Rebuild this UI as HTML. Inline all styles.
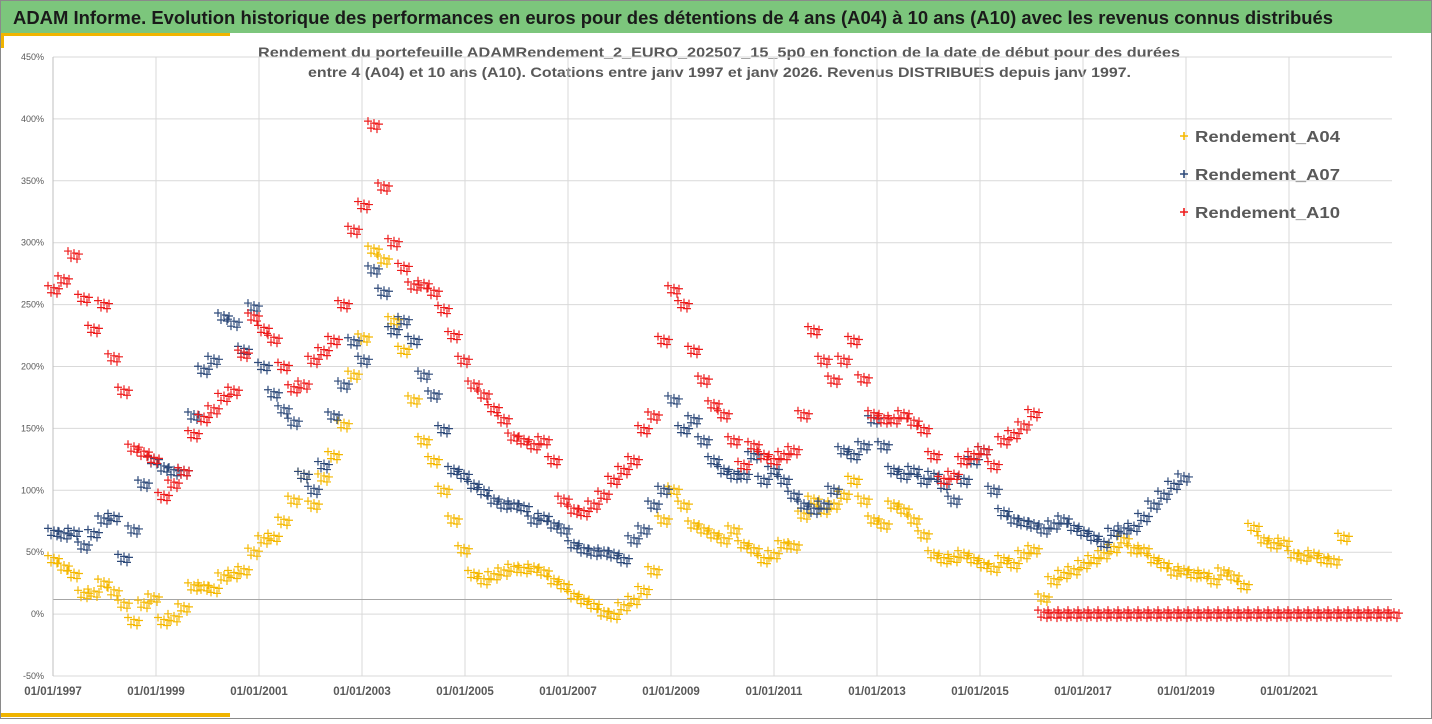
<!DOCTYPE html>
<html><head><meta charset="utf-8"><style>
body{margin:0;width:1432px;height:719px;overflow:hidden;background:#fff;font-family:"Liberation Sans",sans-serif}
</style></head><body>
<svg id="c" width="1432" height="719" xmlns="http://www.w3.org/2000/svg">
<rect x="0.5" y="0.5" width="1431" height="718" fill="#fff" stroke="#8a8a8a"/>
<rect x="1" y="1" width="1430" height="32" fill="#7cc67c"/>
<text x="13" y="24" font-size="18" font-weight="bold" fill="#1a1a1a" textLength="1320" lengthAdjust="spacingAndGlyphs">ADAM Informe. Evolution historique des performances en euros pour des détentions de 4 ans (A04) à 10 ans (A10) avec les revenus connus distribués</text>
<rect x="1" y="33" width="229" height="3" fill="#f0b400"/>
<rect x="1" y="36" width="3" height="12" fill="#f0b400"/>
<rect x="1" y="713" width="229" height="4" fill="#f0b400"/>
<text x="258" y="57" font-size="14" font-weight="bold" fill="#595959" textLength="922" lengthAdjust="spacingAndGlyphs">Rendement du portefeuille ADAMRendement_2_EURO_202507_15_5p0  en fonction de la date de début pour des durées</text>
<text x="308" y="77" font-size="14" font-weight="bold" fill="#595959" textLength="823" lengthAdjust="spacingAndGlyphs">entre 4 (A04) et 10 ans (A10). Cotations entre janv 1997 et janv 2026. Revenus DISTRIBUES depuis janv 1997.</text>
<g id="grid"></g><g id="marks"></g><g id="legend"></g>
</svg>
<script>
const yTicks=[450,400,350,300,250,200,150,100,50,0,-50];
const xTickYears=[1997,1999,2001,2003,2005,2007,2009,2011,2013,2015,2017,2019,2021];
const startYear=1997, stepYears=0.19417;
const a04=[44,38,32,16,17,25,18,8,-6,8,13,-6,-3,5,22,22,20,30,32,35,50,60,62,75,92,112,88,110,128,153,193,223,294,286,237,213,173,140,124,100,
76,52,32,27,31,34,37,36,37,34,27,23,15,11,7,1,-1,6,11,19,35,76,100,88,72,68,64,60,68,56,
52,44,48,56,55,80,92,84,88,96,108,92,76,72,88,84,76,64,48,44,45,48,44,40,37,44,40,48,52,13,
27,32,35,40,44,48,53,60,52,52,44,40,34,35,32,32,27,34,30,23,70,60,56,58,48,46,48,44,43,62];
const a07=[66,64,66,55,65,76,78,45,68,105,124,118,115,115,160,197,205,240,235,213,248,200,178,165,155,112,100,120,160,185,220,205,278,260,229,237,221,193,177,149,
116,112,104,99,92,88,88,86,76,78,72,68,56,52,50,50,48,44,60,68,88,100,173,149,157,140,124,116,112,112,
128,108,116,108,96,88,84,88,100,132,128,136,157,136,116,112,116,108,112,104,92,108,124,132,100,82,76,74,72,68,
72,76,70,66,62,57,66,68,70,78,88,96,104,110];
const a10=[262,270,290,255,230,250,207,180,134,130,125,95,105,115,145,158,165,175,180,210,240,230,222,200,182,185,205,212,221,250,310,330,395,345,300,280,265,266,260,246,
225,205,185,177,166,157,143,140,136,140,124,92,84,82,88,96,108,116,124,149,160,221,262,250,213,189,169,161,140,120,
136,128,124,128,132,161,229,205,189,205,221,190,161,157,157,161,155,149,128,108,112,124,128,132,120,140,145,152,162,0,
0,0,0,0,0,0,0,0,0,0,0,0,0,0,0,0,0,0,0,0,0,0,0,0,0,0,0,0,0,0,0,0,0,0,0];
const series=[{name:'Rendement_A04',vals:a04,color:'#f5b800'},{name:'Rendement_A07',vals:a07,color:'#2e4a7a'},{name:'Rendement_A10',vals:a10,color:'#ee1c1c'}];
const X0=53,X1=1392,Y0=614.1,PXY=1.238,PXYEAR=51.5;
const xs=yr=>X0+(yr-1997)*PXYEAR;
const ys=v=>Y0-v*PXY;
const NS='http://www.w3.org/2000/svg';
function mk(tag,attrs,parent){const e=document.createElementNS(NS,tag);for(const k in attrs)e.setAttribute(k,attrs[k]);parent.appendChild(e);return e;}
const grid=document.getElementById('grid');
yTicks.forEach(t=>{
  const l=mk('line',{x1:X0,x2:X1,y1:ys(t),y2:ys(t),stroke:'#d9d9d9','stroke-width':1},grid);
  
  
  const tx=mk('text',{x:44,y:ys(t)+3,'font-size':9,fill:'#595959','text-anchor':'end'},grid);
  tx.textContent=t+'%';
  
  
});
xTickYears.forEach(yr=>{
  const x=xs(yr);
  const l=mk('line',{x1:x,x2:x,y1:ys(450),y2:ys(-50),stroke:'#d9d9d9','stroke-width':1},grid);
  
  
  const tx=mk('text',{x:x,y:695,'font-size':11.5,'font-weight':'bold',fill:'#595959','text-anchor':'middle'},grid);
  tx.textContent='01/01/'+yr;
  
  
});
const ax=mk('line',{x1:X0,x2:X1,y1:599.5,y2:599.5,stroke:'#a6a6a6','stroke-width':1},grid);


const ay=mk('line',{x1:X0,x2:X0,y1:ys(450),y2:ys(-50),stroke:'#bfbfbf','stroke-width':1},grid);


const marks=document.getElementById('marks');
function cross(g,x,y,s,c,w){mk('path',{d:`M${x-s} ${y}H${x+s}M${x} ${y-s}V${y+s}`,stroke:c,'stroke-width':w,fill:'none'},g);}
const cluster=[[-5,-4],[-2,3],[1,-2],[4,4],[6,-1]];
series.forEach(s=>{
  const g=mk('g',{},marks);
  
  
  s.vals.forEach((v,i)=>{
    if(v===null)return;
    const x=xs(startYear+i*stepYears),y=ys(v);
    cluster.forEach(o=>cross(g,x+o[0],y+o[1],4,s.color,1.2));
  });
});
const lg=document.getElementById('legend');
series.forEach((s,i)=>{
  const g=mk('g',{},lg);
  
  
  const y=136+i*38;
  cross(g,1184,y,4,s.color,1.6);
  const t=mk('text',{x:1195,y:y+6,'font-size':16,'font-weight':'bold',fill:'#595959',textLength:145,lengthAdjust:'spacingAndGlyphs'},g);
  t.textContent=s.name;
});
</script>
</body></html>
